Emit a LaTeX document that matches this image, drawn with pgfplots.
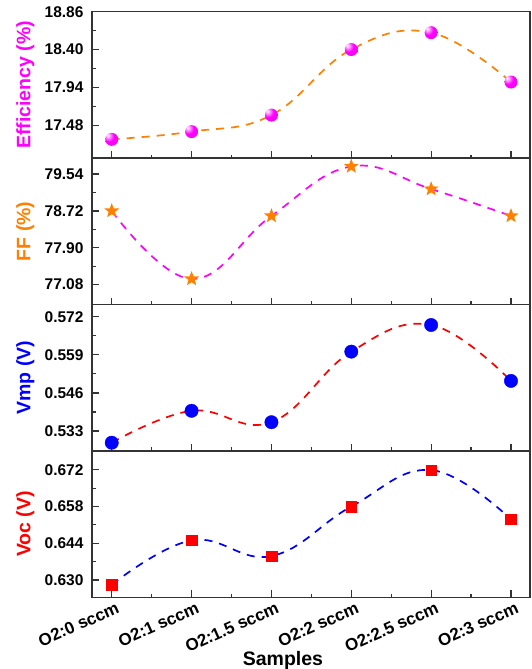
\documentclass[border=0pt]{standalone}
\usepackage{fontspec}
\setmainfont{Liberation Sans}
\usepackage{pgfplots}
\pgfplotsset{compat=1.18}
\definecolor{myorange}{HTML}{FF8000}
\definecolor{mymag}{HTML}{FF00FF}
\definecolor{myblue}{HTML}{0000FF}
\definecolor{myred}{HTML}{FF0000}
\definecolor{frame}{HTML}{333333}

\pgfdeclareradialshading{magball}{\pgfpoint{-16bp}{16bp}}{%
  color(0bp)=(white); color(9bp)=(mymag!45!white); color(20bp)=(mymag);
  color(55bp)=(mymag!92!black); color(80bp)=(mymag!80!black)}

\pgfdeclareplotmark{mball}{%
  \pgfpathcircle{\pgfpointorigin}{\pgfplotmarksize}%
  \pgfshadepath{magball}{0}%
  \pgfusepath{discard}%
}

\pgfdeclareplotmark{fstar}{%
  \pgfpathmoveto{\pgfpointpolar{90}{\pgfplotmarksize}}%
  \pgfpathlineto{\pgfpointpolar{126}{0.42\pgfplotmarksize}}%
  \pgfpathlineto{\pgfpointpolar{162}{\pgfplotmarksize}}%
  \pgfpathlineto{\pgfpointpolar{198}{0.42\pgfplotmarksize}}%
  \pgfpathlineto{\pgfpointpolar{234}{\pgfplotmarksize}}%
  \pgfpathlineto{\pgfpointpolar{270}{0.42\pgfplotmarksize}}%
  \pgfpathlineto{\pgfpointpolar{306}{\pgfplotmarksize}}%
  \pgfpathlineto{\pgfpointpolar{342}{0.42\pgfplotmarksize}}%
  \pgfpathlineto{\pgfpointpolar{18}{\pgfplotmarksize}}%
  \pgfpathlineto{\pgfpointpolar{54}{0.42\pgfplotmarksize}}%
  \pgfpathclose
  \pgfusepathqfill
}

\pgfplotstableread{
x y
0 17.308
1 17.402
2 17.603
3 18.400
4 18.605
5 18.005
}\effdata
\pgfplotstableread{
x y
0 78.720
1 77.206
2 78.609
3 79.710
4 79.207
5 78.609
}\ffdata
\pgfplotstableread{
x y
0 0.5290
1 0.5399
2 0.5360
3 0.5601
4 0.5692
5 0.5501
}\vmpdata
\pgfplotstableread{
x y
0 0.6282
1 0.6451
2 0.6391
3 0.6580
4 0.6719
5 0.6531
}\vocdata

\pgfplotsset{
  panel/.style={
    width=438pt, height=146.4pt, scale only axis,
    xmin=-0.247, xmax=5.238,
    xtick={0,...,5}, minor x tick num=1,
    minor y tick num=1,
    tick pos=left, tick align=inside,
    major tick length=7pt, minor tick length=3.5pt,
    axis line style={line width=1.2pt, frame},
    every tick/.style={line width=1.2pt, frame},
    /pgf/number format/assume math mode=true,
    every tick label/.append style={font=\bfseries\fontsize{15.5}{18}\selectfont, text=black},
    yticklabel style={xshift=-5pt},
    ylabel style={font=\bfseries\fontsize{19.5}{22}\selectfont,
      at={(axis description cs:-0.152,0.5)}, anchor=center},
    clip=false,
  },
  dline/.style={dash pattern=on 8pt off 7pt, line width=1.7pt, smooth, tension=0.7, mark=none},
}

\begin{document}
\begin{tikzpicture}
\useasboundingbox (0,0) rectangle (531pt,-669pt);

\begin{axis}[panel, at={(92pt,-11.7pt)}, anchor=north west,
  ymin=17.08, ymax=18.86, ytick={17.48,17.94,18.40,18.86},
  yticklabel style={/pgf/number format/.cd, fixed, fixed zerofill, precision=2},
  xticklabels={},
  ylabel={Efficiency (\%)}, ylabel style={text=mymag}]
\addplot[dline, myorange] table[x=x,y=y] {\effdata};
\addplot[only marks, mark=mball, mark size=6.5pt] table[x=x,y=y] {\effdata};
\end{axis}

\begin{axis}[panel, at={(92pt,-158.1pt)}, anchor=north west,
  ymin=76.636, ymax=79.896, ytick={77.08,77.90,78.72,79.54},
  yticklabel style={/pgf/number format/.cd, fixed, fixed zerofill, precision=2},
  xticklabels={},
  ylabel={FF (\%)}, ylabel style={text=myorange}]
\addplot[dline, mymag] table[x=x,y=y] {\ffdata};
\addplot[only marks, mark=fstar, color=myorange, mark size=7.8pt] table[x=x,y=y] {\ffdata};
\end{axis}

\begin{axis}[panel, at={(92pt,-304.5pt)}, anchor=north west,
  ymin=0.5262, ymax=0.5762, ytick={0.533,0.546,0.559,0.572},
  yticklabel style={/pgf/number format/.cd, fixed, fixed zerofill, precision=3},
  xticklabels={},
  ylabel={Vmp (V)}, ylabel style={text=myblue}]
\addplot[dline, myred] table[x=x,y=y] {\vmpdata};
\addplot[only marks, mark=*, color=myblue, mark size=6.7pt] table[x=x,y=y] {\vmpdata};
\end{axis}

\begin{axis}[panel, at={(92pt,-450.9pt)}, anchor=north west,
  ymin=0.6234, ymax=0.6792, ytick={0.630,0.644,0.658,0.672},
  yticklabel style={/pgf/number format/.cd, fixed, fixed zerofill, precision=3},
  xticklabels={O2:0 sccm, O2:1 sccm, O2:1.5 sccm, O2:2 sccm, O2:2.5 sccm, O2:3 sccm},
  xticklabel style={font=\bfseries\fontsize{17}{20}\selectfont, rotate=24, anchor=north east, inner sep=1pt, xshift=3pt, yshift=-4pt},
  xlabel={Samples},
  xlabel style={font=\bfseries\fontsize{19.5}{22}\selectfont,
    at={(axis description cs:0.436,-0.43)}, anchor=center},
  ylabel={Voc (V)}, ylabel style={text=myred}]
\addplot[dline, myblue] table[x=x,y=y] {\vocdata};
\addplot[only marks, mark=square*, color=myred, mark size=5.3pt] table[x=x,y=y] {\vocdata};
\end{axis}
\end{tikzpicture}
\end{document}
